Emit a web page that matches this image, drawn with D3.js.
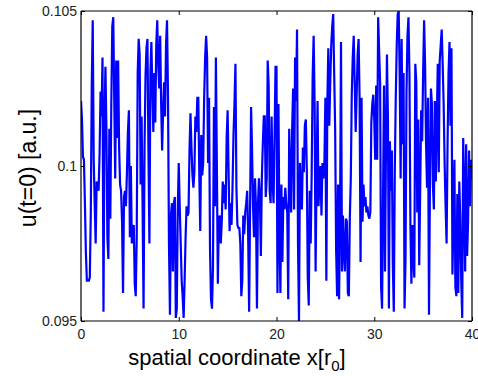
<!DOCTYPE html>
<html><head><meta charset="utf-8">
<script src="https://cdn.jsdelivr.net/npm/d3@7"></script>
<style>body{margin:0;background:#fff}svg{display:block}text{font-family:"Liberation Sans",Arial,sans-serif}</style>
</head><body><div id="chart"></div>
<script>
// sampling grid: x from 0 to 40 in steps of 0.1
const xStart = 0, xStep = 0.1;
const xTicks = [0, 10, 20, 30, 40];
const yTicks = [0.095, 0.1, 0.105];
const yTickLabels = ["0.095", "0.1", "0.105"];
// u(t=0), x = 0 .. 9.9
const uSeg1 = [0.1021,0.1015,0.1003,0.1002,0.0988,0.0972,0.0963,0.0963,0.0963,0.0964,
0.0984,0.1026,0.1047,0.1002,0.0988,0.0975,0.0995,0.0994,0.0992,0.1004,
0.1024,0.1016,0.1035,0.0953,0.1014,0.1032,0.1012,0.0977,0.0970,0.1012,
0.0983,0.1020,0.1045,0.1048,0.1022,0.0996,0.1034,0.1009,0.1034,0.1006,
0.0994,0.0992,0.0982,0.0959,0.0990,0.0992,0.0987,0.0998,0.1011,0.1018,
0.0977,0.1000,0.0975,0.0978,0.0981,0.0962,0.0958,0.0977,0.1030,0.1041,
0.1036,0.0994,0.1016,0.0987,0.0954,0.1006,0.1029,0.1038,0.1041,0.1005,
0.0975,0.1030,0.1040,0.1024,0.1011,0.1030,0.1014,0.1039,0.1047,0.1033,
0.1025,0.1042,0.1020,0.1005,0.1018,0.1027,0.1016,0.1039,0.1047,0.1023,
0.0975,0.0952,0.0984,0.0988,0.0966,0.0988,0.0990,0.0951,0.0954,0.0986];
// x = 10 .. 19.9
const uSeg2 = [0.1001,0.0987,0.0975,0.0963,0.0958,0.0951,0.0963,0.0977,0.0987,0.0984,
0.0985,0.1005,0.1017,0.1006,0.0997,0.0993,0.0998,0.1016,0.1011,0.1022,
0.1022,0.0998,0.0979,0.1010,0.0997,0.1001,0.1022,0.1035,0.1042,0.1035,
0.1001,0.1022,0.0973,0.0957,0.0954,0.0967,0.1019,0.0987,0.1035,0.1000,
0.0962,0.0983,0.0984,0.0975,0.0982,0.0995,0.0988,0.0994,0.0986,0.1009,
0.1018,0.0998,0.0979,0.0988,0.0981,0.0993,0.1010,0.1020,0.1033,0.0993,
0.0981,0.0980,0.0980,0.0975,0.0958,0.0963,0.0984,0.0978,0.0985,0.0988,
0.0992,0.0978,0.0953,0.0987,0.1019,0.1005,0.0987,0.0977,0.0996,0.0987,
0.0954,0.0987,0.0996,0.0990,0.0971,0.0996,0.1007,0.1016,0.1016,0.0990,
0.0996,0.1034,0.1026,0.0992,0.0988,0.1016,0.0995,0.0988,0.1009,0.1032];
// x = 20 .. 29.9
const uSeg3 = [0.1032,0.0959,0.1020,0.0978,0.0959,0.0994,0.0969,0.0990,0.0986,0.0993,
0.0988,0.0985,0.0957,0.1012,0.0998,0.0985,0.1012,0.1025,0.0986,0.1035,
0.1021,0.1044,0.0975,0.0950,0.1001,0.0992,0.0986,0.1006,0.0998,0.1013,
0.1015,0.0999,0.0964,0.0955,0.0992,0.0975,0.0998,0.1029,0.1042,0.1020,
0.0966,0.0998,0.1021,0.0987,0.0996,0.1000,0.0984,0.1001,0.0996,0.1001,
0.1022,0.0963,0.1020,0.1038,0.1013,0.1027,0.1039,0.1045,0.1049,0.1030,
0.1012,0.0973,0.0958,0.0994,0.0957,0.0983,0.1040,0.0966,0.0984,0.0972,
0.0966,0.0983,0.0982,0.0959,0.0958,0.0983,0.0996,0.1023,0.1035,0.1042,
0.1027,0.1011,0.1023,0.1036,0.1041,0.1022,0.0969,0.1022,0.0982,0.0994,
0.0987,0.0990,0.0985,0.0987,0.0984,0.0983,0.0985,0.1014,0.1020,0.1023];
// x = 30 .. 40
const uSeg4 = [0.1015,0.1002,0.1026,0.1002,0.1048,0.1037,0.1027,0.0961,0.0954,0.0990,
0.1026,0.0966,0.1006,0.1036,0.1015,0.0954,0.1008,0.0992,0.1005,0.0968,
0.0953,0.0998,0.1022,0.1039,0.1049,0.1050,0.1030,0.0996,0.1041,0.1007,
0.1030,0.0954,0.0970,0.1024,0.1042,0.1048,0.1030,0.0981,0.0962,0.0981,
0.0970,0.0964,0.1033,0.1027,0.0985,0.1015,0.0968,0.0992,0.1018,0.1008,
0.1030,0.1047,0.1033,0.1007,0.0993,0.1022,0.0952,0.0995,0.1025,0.1020,
0.0994,0.0986,0.1021,0.0995,0.1015,0.1033,0.0998,0.1034,0.1039,0.1044,
0.1033,0.1020,0.1001,0.0987,0.0975,0.1007,0.1030,0.1040,0.1013,0.1038,
0.0965,0.0983,0.1002,0.0961,0.0958,0.0991,0.0959,0.0995,0.0983,0.0963,
0.0951,0.1009,0.0992,0.0966,0.1007,0.0971,0.0982,0.1005,0.0987,0.1002,
0.0996];
const u = uSeg1.concat(uSeg2, uSeg3, uSeg4);
const data = u.map((v, i) => ({x: xStart + i * xStep, v}));

const W = 478, H = 376;
const L = 81, R = 472, T = 11, B = 321;
const svg = d3.select("#chart").append("svg").attr("width", W).attr("height", H);
svg.append("rect").attr("width", W).attr("height", H).attr("fill", "#fff");

const x = d3.scaleLinear().domain([0, 40]).range([L, R]);
const y = d3.scaleLinear().domain([0.095, 0.105]).range([B, T]);

svg.append("defs").append("clipPath").attr("id", "clip")
  .append("rect").attr("x", L).attr("y", T).attr("width", R - L).attr("height", B - T);

svg.append("path").datum(data)
  .attr("clip-path", "url(#clip)")
  .attr("fill", "none").attr("stroke", "#0000ff").attr("stroke-width", 2.2)
  .attr("stroke-linejoin", "miter").attr("stroke-miterlimit", 2)
  .attr("d", d3.line().x(d => x(d.x)).y(d => y(d.v)));

const tl = 4;
const fmtY = d => yTickLabels[yTicks.indexOf(d)];
const xb = svg.append("g").attr("transform", `translate(0,${B})`)
  .call(d3.axisBottom(x).tickValues(xTicks).tickSize(-tl).tickPadding(8).tickFormat(d3.format("d")));
const xt = svg.append("g").attr("transform", `translate(0,${T})`)
  .call(d3.axisTop(x).tickValues(xTicks).tickSize(-tl).tickFormat(""));
const yl = svg.append("g").attr("transform", `translate(${L},0)`)
  .call(d3.axisLeft(y).tickValues(yTicks).tickSize(-tl).tickPadding(4).tickFormat(fmtY));
const yr = svg.append("g").attr("transform", `translate(${R},0)`)
  .call(d3.axisRight(y).tickValues(yTicks).tickSize(-tl).tickFormat(""));
[xb, xt, yl, yr].forEach(g => {
  g.select(".domain").attr("stroke", "#000").attr("stroke-width", 1.2);
  g.selectAll(".tick line").attr("stroke", "#000");
  g.selectAll(".tick text").attr("fill", "#222").attr("font-size", 14)
    .attr("font-family", "'Liberation Sans', Arial, sans-serif");
});
xb.select(".domain").attr("d", `M${L},0H${R}`);
xt.select(".domain").attr("d", `M${L},0H${R}`);
yl.select(".domain").attr("d", `M0,${T}V${B}`);
yr.select(".domain").attr("d", `M0,${T}V${B}`);

const xlab = svg.append("text").attr("x", 237).attr("y", 365)
  .attr("text-anchor", "middle").attr("font-size", 22).attr("fill", "#000");
xlab.append("tspan").text("spatial coordinate x[r");
xlab.append("tspan").attr("font-size", 15).attr("dy", 6).text("0");
xlab.append("tspan").attr("dy", -6).text("]");

svg.append("text").attr("transform", `translate(36,168) rotate(-90)`)
  .attr("text-anchor", "middle").attr("font-size", 23).attr("fill", "#000")
  .text("u(t=0) [a.u.]");
</script></body></html>
